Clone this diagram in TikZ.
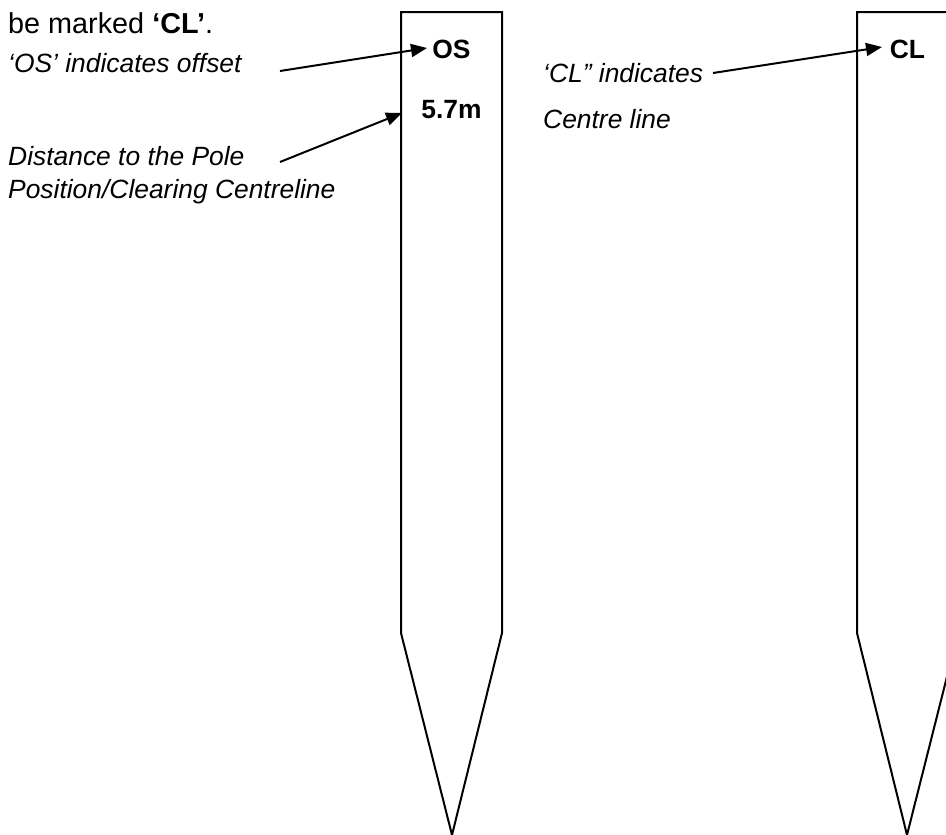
\documentclass[tikz,border=0pt]{standalone}
\usepackage{fontspec}
\setmainfont{Liberation Sans}
\usetikzlibrary{arrows.meta}
\tikzset{
  txt/.style={anchor=base west,inner sep=0pt,font=\fontsize{26.4}{30}\selectfont\itshape},
  plain/.style={anchor=base west,inner sep=0pt,font=\fontsize{28.8}{33}\selectfont},
  lbl/.style={anchor=base,inner sep=0pt,font=\fontsize{26.4}{30}\selectfont\bfseries},
  stake/.style={line width=2pt,line join=miter},
  arr/.style={line width=2pt,-{Triangle[length=16pt,width=13pt]}}
}
\begin{document}
\begin{tikzpicture}[x=1pt,y=-1pt]
\useasboundingbox (0,0) rectangle (946,835);
% stakes
\draw[stake] (401,835+40) -- (452,835) -- (401,633) -- (401,12) -- (502,12) -- (502,633) -- (452,835);
\draw[stake] (857,633) -- (857,12) -- (958,12) -- (958,633) -- (907,835) -- cycle;
% texts
\node[plain] (top) at (8,34) {be marked \textbf{‘CL’}.};
\node[txt] (os) at (8,72) {‘OS’ indicates offset};
\node[txt] (dist1) at (8,165) {Distance to the Pole};
\node[txt] (dist2) at (8,198) {Position/Clearing Centreline};
\node[txt] (cl1) at (543,82) {‘CL” indicates};
\node[txt] (cl2) at (543,128) {Centre line};
\node[lbl] (OS) at (451.5,58) {OS};
\node[lbl] (dm) at (451.5,118) {5.7m};
\node[lbl] (CL) at (907.5,58) {CL};
% arrow ends
\coordinate (a1s) at (280,71);
\coordinate (a1e) at (427,48);
\coordinate (a2s) at (280,162);
\coordinate (a2e) at (402,113);
\coordinate (a3s) at (713,73);
\coordinate (a3e) at (882,47);
\draw[arr] (a1s) -- (a1e);
\draw[arr] (a2s) -- (a2e);
\draw[arr] (a3s) -- (a3e);
\end{tikzpicture}
\end{document}
